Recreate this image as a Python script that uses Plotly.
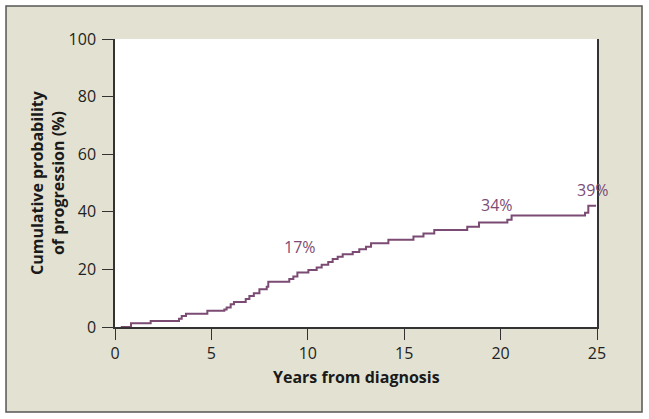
import plotly.graph_objects as go

# Step curve values
years = [0.3, 0.83, 1.85, 3.32, 3.46, 3.68, 4.79, 5.67, 5.79, 6.0, 6.17, 6.78, 6.97,
         7.2, 7.49, 7.87, 7.95, 9.04, 9.25, 9.46, 10.03, 10.46, 10.72, 11.06, 11.29,
         11.55, 11.81, 12.33, 12.67, 13.02, 13.28, 14.18, 15.48, 16.0, 16.56, 18.27,
         18.88, 20.35, 20.57, 24.38, 24.55, 24.95]
prob = [0, 1.3, 2.1, 2.9, 3.8, 4.6, 5.6, 6.1, 6.8, 7.9, 8.7, 9.7, 10.8,
        11.7, 13.1, 14.0, 15.7, 16.7, 17.5, 18.9, 19.8, 20.7, 21.6, 22.6, 23.6,
        24.4, 25.3, 26.0, 27.0, 27.9, 29.1, 30.3, 31.4, 32.5, 33.7, 34.8,
        36.3, 37.2, 38.7, 39.7, 42.1, 42.1]

label_text = ["17%", "34%", "39%"]
label_x = [9.6, 19.8, 24.8]
label_y = [27.8, 42.4, 47.6]

x_ticks = [0, 5, 10, 15, 20, 25]
y_ticks = [0, 20, 40, 60, 80, 100]

curve_color = "#7b4b73"
font_family = "Open Sans, Noto Sans, sans-serif"

fig = go.Figure()
fig.add_trace(go.Scatter(x=years, y=prob, mode="lines", line_shape="hv",
                         line=dict(color=curve_color, width=2), hoverinfo="skip",
                         showlegend=False))

for t, lx, ly in zip(label_text, label_x, label_y):
    fig.add_annotation(x=lx, y=ly, text=t, showarrow=False, xanchor="center",
                       yanchor="middle",
                       font=dict(family=font_family, size=16, color="#7d4c74"))

# outer beige panel
fig.add_shape(type="rect", xref="paper", yref="paper",
              x0=-0.2261, x1=1.0934, y0=-0.2951, y1=1.1146,
              fillcolor="#e3e2d2", line=dict(color="#555555", width=1.5), layer="below")
# white plot area
fig.add_shape(type="rect", xref="x domain", yref="y domain",
              x0=0, x1=1, y0=0, y1=1, fillcolor="white",
              line=dict(width=0), layer="below")

fig.add_annotation(xref="paper", yref="paper", x=0.5, y=-0.174,
                   text="<b>Years from diagnosis</b>", showarrow=False,
                   xanchor="center", yanchor="middle",
                   font=dict(family=font_family, size=16, color="#1a1a1a"))
fig.add_annotation(xref="paper", yref="paper", x=-0.141, y=0.5,
                   text="<b>Cumulative probability<br>of progression (%)</b>",
                   showarrow=False, textangle=-90, xanchor="center", yanchor="middle",
                   font=dict(family=font_family, size=16, color="#1a1a1a"))

fig.update_xaxes(range=[0, 25], tickvals=x_ticks, ticks="outside", ticklen=11,
                 tickcolor="#333", tickwidth=1.2, showline=True, linecolor="#333",
                 linewidth=1.5, showgrid=False, zeroline=False,
                 tickfont=dict(family=font_family, size=16, color="#222"))
fig.update_yaxes(range=[0, 100], tickvals=y_ticks, ticks="outside", ticklen=11,
                 tickcolor="#333", tickwidth=1.2, showline=True, linecolor="#333",
                 linewidth=1.5, mirror=True, showgrid=False, zeroline=False,
                 ticklabelstandoff=3,
                 tickfont=dict(family=font_family, size=16, color="#222"))

fig.update_layout(width=649, height=419,
                  margin=dict(l=115, r=52, t=39, b=92, pad=0),
                  paper_bgcolor="white", plot_bgcolor="rgba(0,0,0,0)")

fig.write_html("out.html", config={"displayModeBar": False},
               post_script="document.body.style.margin='0';document.body.style.overflow='hidden';")
